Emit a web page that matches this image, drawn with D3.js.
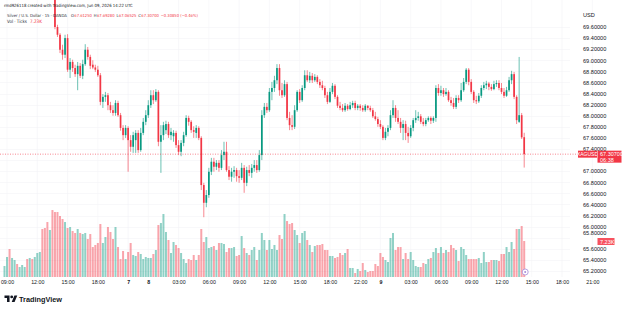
<!DOCTYPE html>
<html><head><meta charset="utf-8">
<script src="https://cdn.jsdelivr.net/npm/d3@7"></script>
<style>html,body{margin:0;padding:0;background:#fff;overflow:hidden}svg{display:block;font-family:"Liberation Sans",Arial,sans-serif}.hdr{font-family:"Liberation Sans Narrow","DejaVu Sans Condensed","Liberation Sans",sans-serif}</style>
</head><body><div id="chart"></div>
<script>
// ---- data (15-minute bars, XAGUSD, OANDA) ----
const openP = [
70.48,70.52,70.58,70.45,70.50,70.55,70.50,70.53,70.56,70.58,
70.52,70.56,70.52,70.57,70.62,70.66,70.50,70.38,70.24,70.32,
70.18,69.60,69.46,69.19,69.10,69.40,68.83,68.97,68.86,68.75,
68.90,68.72,68.93,69.19,69.06,68.92,68.87,68.83,68.73,68.25,
68.34,68.37,68.19,68.10,68.05,68.23,68.01,67.78,67.65,67.78,
67.56,67.44,67.56,67.69,67.38,67.69,67.89,68.01,68.19,68.37,
68.28,68.43,67.53,67.65,67.74,67.85,67.65,67.63,67.69,67.47,
67.35,67.51,67.65,67.96,67.89,67.74,67.69,67.78,67.60,66.75,
66.43,66.57,66.99,67.17,67.08,67.15,67.06,67.29,67.35,67.02,
66.90,66.99,67.02,66.91,66.88,67.06,66.79,67.02,66.97,67.06,
67.11,67.02,67.29,68.01,68.16,68.10,68.43,68.50,68.64,68.86,
68.46,68.37,68.57,67.96,67.83,67.80,68.10,68.43,68.28,68.50,
68.73,68.64,68.72,68.64,68.70,68.61,68.55,68.50,68.37,68.25,
68.43,68.54,68.34,68.18,68.14,68.10,68.18,68.12,68.19,68.23,
68.14,68.18,68.14,68.10,68.18,68.14,68.10,67.99,67.94,67.85,
67.80,67.60,67.71,67.78,68.01,68.14,67.96,67.89,67.78,67.85,
67.69,67.63,67.78,67.92,67.96,67.99,67.89,67.85,67.92,67.96,
67.91,67.96,68.50,68.41,68.46,68.39,68.43,68.28,68.23,68.16,
68.32,68.28,68.46,68.61,68.83,68.61,68.43,68.28,68.26,68.36,
68.50,68.55,68.58,68.52,68.48,68.57,68.59,68.50,68.43,68.36,
68.46,68.64,68.75,68.34,67.89,68.01,67.6125];
const highP = [
70.54,70.60,70.60,70.52,70.57,70.57,70.55,70.58,70.60,70.60,
70.58,70.58,70.59,70.64,70.70,70.70,70.54,70.42,70.35,70.35,
70.22,69.64,69.49,69.28,69.46,69.47,69.04,69.01,68.92,68.97,
68.95,69.01,69.29,69.24,69.10,69.00,68.92,68.90,68.77,68.39,
68.43,68.41,68.25,68.19,68.28,68.27,68.05,67.83,67.83,67.81,
67.65,67.71,67.74,67.74,67.78,67.96,68.10,68.28,68.46,68.46,
68.48,68.46,67.83,67.89,67.91,67.89,67.78,67.74,67.73,67.56,
67.56,67.71,68.01,68.00,67.92,67.81,67.83,67.81,67.63,66.79,
66.66,67.06,67.24,67.24,67.20,67.20,67.38,67.53,67.53,67.09,
67.06,67.09,67.06,67.02,67.15,67.11,67.08,67.11,67.13,67.20,
67.20,67.38,68.10,68.23,68.23,68.50,68.61,68.72,68.93,68.93,
68.59,68.64,68.61,68.07,68.01,68.19,68.46,68.48,68.55,68.82,
68.82,68.79,68.77,68.75,68.73,68.66,68.63,68.54,68.43,68.50,
68.59,68.57,68.37,68.25,68.21,68.23,68.21,68.25,68.27,68.27,
68.21,68.21,68.19,68.21,68.19,68.18,68.14,68.07,67.98,67.92,
67.83,67.78,67.83,68.10,68.28,68.19,68.10,67.96,67.92,67.91,
67.80,67.83,67.96,68.10,68.07,68.03,67.96,67.96,67.99,67.99,
67.99,68.55,68.57,68.54,68.50,68.50,68.46,68.34,68.32,68.37,
68.37,68.59,68.68,68.86,68.86,68.66,68.46,68.36,68.41,68.55,
68.61,68.63,68.61,68.57,68.63,68.64,68.64,68.59,68.50,68.52,
68.70,68.81,68.79,68.37,69.06,68.05,67.6928];
const lowP = [
70.45,70.50,70.43,70.43,70.48,70.48,70.48,70.51,70.54,70.50,
70.50,70.50,70.50,70.55,70.60,70.48,70.36,70.22,70.20,70.16,
69.56,69.42,69.13,69.01,69.04,68.79,68.68,68.79,68.70,68.46,
68.68,68.66,68.90,69.01,68.84,68.84,68.79,68.70,68.19,68.14,
68.25,68.10,68.05,68.00,68.00,67.98,67.73,67.56,67.60,66.99,
67.35,67.33,67.33,67.33,67.35,67.65,67.83,67.96,68.14,68.21,
68.25,67.45,66.97,67.56,67.67,67.60,67.56,67.53,67.42,67.29,
67.27,67.45,67.62,67.82,67.69,67.60,67.60,67.56,66.66,66.17,
66.35,66.52,66.93,66.99,67.02,66.99,67.02,67.20,66.99,66.84,
66.81,66.88,66.81,66.79,66.84,66.61,66.73,66.91,66.88,66.99,
66.97,66.99,67.20,67.96,68.05,68.07,68.28,68.43,68.57,68.36,
68.32,68.34,67.92,67.74,67.74,67.76,68.07,68.23,68.25,68.46,
68.61,68.59,68.59,68.61,68.57,68.50,68.46,68.32,68.21,68.23,
68.39,68.30,68.14,68.10,68.07,68.07,68.09,68.10,68.14,68.10,
68.10,68.09,68.07,68.07,68.10,68.07,67.96,67.91,67.80,67.76,
67.56,67.56,67.63,67.74,67.96,67.89,67.85,67.69,67.56,67.56,
67.51,67.60,67.72,67.87,67.91,67.85,67.81,67.81,67.89,67.85,
67.87,67.89,68.36,68.36,68.34,68.36,68.25,68.18,68.12,68.12,
68.23,68.25,68.43,68.57,68.55,68.39,68.23,68.21,68.23,68.32,
68.46,68.48,68.46,68.45,68.46,68.52,68.46,68.39,68.32,68.34,
68.43,68.57,68.30,67.85,67.87,67.58,67.06525];
const closeP = [
70.52,70.58,70.45,70.50,70.55,70.50,70.53,70.56,70.58,70.52,
70.56,70.52,70.57,70.62,70.66,70.50,70.38,70.24,70.32,70.18,
69.60,69.46,69.19,69.10,69.40,68.83,68.97,68.86,68.75,68.90,
68.72,68.93,69.19,69.06,68.90,68.87,68.83,68.73,68.25,68.34,
68.37,68.19,68.10,68.05,68.23,68.01,67.78,67.65,67.78,67.56,
67.44,67.65,67.69,67.38,67.69,67.89,68.01,68.19,68.37,68.28,
68.43,67.53,67.65,67.83,67.85,67.65,67.71,67.69,67.47,67.35,
67.51,67.65,67.96,67.89,67.74,67.71,67.78,67.60,66.75,66.43,
66.57,66.99,67.17,67.08,67.15,67.06,67.29,67.35,67.02,66.90,
66.99,67.02,66.91,66.88,67.06,66.79,67.02,66.97,67.06,67.11,
67.02,67.29,68.01,68.16,68.10,68.43,68.50,68.64,68.86,68.46,
68.37,68.57,67.96,67.83,67.80,68.10,68.43,68.28,68.50,68.73,
68.64,68.72,68.64,68.70,68.61,68.55,68.50,68.37,68.25,68.43,
68.54,68.34,68.18,68.14,68.10,68.18,68.12,68.19,68.23,68.14,
68.18,68.14,68.10,68.18,68.14,68.10,67.99,67.94,67.85,67.80,
67.60,67.71,67.78,68.01,68.14,67.96,67.89,67.78,67.85,67.69,
67.63,67.78,67.92,67.96,67.99,67.89,67.85,67.92,67.96,67.91,
67.96,68.50,68.41,68.46,68.39,68.43,68.28,68.23,68.16,68.32,
68.28,68.46,68.61,68.83,68.61,68.43,68.28,68.26,68.36,68.50,
68.55,68.58,68.52,68.48,68.57,68.59,68.50,68.43,68.36,68.46,
68.64,68.75,68.34,67.92,68.01,67.61,67.307];
const volumeTicks = [
2210,4020,5620,3820,3410,2610,2010,2410,2010,3610,
3820,3610,4020,4820,5020,9640,9840,11040,9440,13450,
13050,13050,12250,11650,11040,9840,10040,9240,8840,9640,
8840,8630,8840,7630,8630,6020,6430,6830,10640,6830,
8030,10040,9040,7630,10040,6020,3610,5220,3610,5020,
6830,4420,4220,5020,4620,3610,4020,3820,3820,4620,
5420,10440,10840,12650,9040,7430,4820,7030,6430,5820,
4820,3610,2810,3610,3410,4420,3410,4420,9640,7030,
8030,5820,6020,6220,5420,6830,6830,6630,5020,5820,
5820,6020,4220,4420,8230,5820,4820,4420,5420,6020,
3410,5420,8840,7430,5420,7430,5620,6430,5420,8430,
7630,12650,11240,10640,10840,9440,8430,6830,8840,9240,
7430,6430,5020,6220,6430,6430,6630,5420,5420,4220,
4220,3820,4020,4820,4420,4820,5620,1810,1810,800,
1610,1200,2810,1410,1000,1200,1200,2610,2210,4820,
4020,3410,3010,7830,8840,5420,6020,6020,3610,4820,
3610,5020,3410,2210,2010,2010,2810,2610,3610,3820,
5020,5820,4820,6020,4820,5420,5020,6430,5820,5420,
3210,6020,5620,4420,3610,3610,3610,3610,3820,2810,
5020,3010,3010,3410,3410,3410,3210,4620,4620,6020,
5020,7030,5620,9640,9640,10240,7230];
// trading sessions: [start (UTC), number of 15-min slots]
const sessions = [["2026-06-05T08:45:00Z",49],["2026-06-07T22:00:00Z",92],["2026-06-08T22:00:00Z",93]];
const tickTimes = ["06-05 09:00","06-05 12:00","06-05 15:00","06-05 18:00","06-07 22:00","06-08 00:00","06-08 03:00","06-08 06:00","06-08 09:00","06-08 12:00","06-08 15:00","06-08 18:00","06-08 22:00","06-09 00:00","06-09 03:00","06-09 06:00","06-09 09:00","06-09 12:00","06-09 15:00","06-09 18:00","06-09 21:00"];
const tickLabels = ["09:00","12:00","15:00","18:00","7","8","03:00","06:00","09:00","12:00","15:00","18:00","22:00","9","03:00","06:00","09:00","12:00","15:00","18:00","21:00"];
const dayLabels = ["7","8","9"];
const priceTicks = [69.6,69.4,69.2,69.0,68.8,68.6,68.4,68.2,68.0,67.8,67.6,67.4,67.2,67.0,66.8,66.6,66.4,66.2,66.0,65.8,65.6,65.4,65.2];
const lastPrice = 67.307, lastVolumeLabel = "7.23K", countdown = "06:38", symbolLabel = "XAGUSD";
const headerLine1 = "rmd926118 created with TradingView.com, Jun 09, 2026 14:22 UTC";
const titleText = "Silver / U.S. Dollar · 15 · OANDA";
const ohlcParts = [["O","67.61250"],["H","67.69280"],["L","67.06525"],["C","67.30700"],["","−0.30850 (−0.46%)"]];

// ---- drawing ----
const W=625,H=309, paneRight=570, up="#089981", down="#f23645";
const svg=d3.select("#chart").append("svg").attr("width",W).attr("height",H);
const fmtKey=d3.utcFormat("%m-%d %H:%M");
const times=[];
sessions.forEach(([s,n])=>{const t0=+new Date(s);for(let k=0;k<n;k++)times.push(fmtKey(new Date(t0+k*9e5)));});
const idx=new Map(times.map((t,i)=>[t,i]));
const N=closeP.length;
const bars=d3.range(N).map(i=>({i,o:openP[i],h:highP[i],l:lowP[i],c:closeP[i],v:volumeTicks[i]}));

const x=d3.scaleLinear().domain([0,206]).range([4.5,524.2]);
const y=d3.scaleLinear().domain([65.2,69.6]).range([271,27]);
const yv=d3.scaleLinear().domain([0,7230]).range([277,241]);

// helper: text sized so its natural width equals the target width
function fitText(xp,yp,str,target,color,weight,cls){
  const t=svg.append("text").attr("class",cls||null).attr("x",xp).attr("y",yp).attr("font-size",10).attr("fill",color)
    .attr("font-weight",weight||"normal").text(str);
  const w=t.node().getComputedTextLength();
  t.attr("font-size",Math.min(5.6,10*target/w));
  return t;
}

// grid
const grid=svg.append("g").attr("stroke","#f3f4f7").attr("stroke-width",0.6);
grid.selectAll("line.h").data(priceTicks).join("line").attr("x1",0).attr("x2",paneRight).attr("y1",d=>Math.round(y(d))+0.5).attr("y2",d=>Math.round(y(d))+0.5);
grid.selectAll("line.v").data(tickTimes).join("line").attr("y1",0).attr("y2",277).attr("x1",d=>x(idx.get(d))).attr("x2",d=>x(idx.get(d)));

svg.append("clipPath").attr("id","pane").append("rect").attr("x",0).attr("y",0).attr("width",paneRight).attr("height",278);
const pane=svg.append("g").attr("clip-path","url(#pane)");

// volume
pane.append("g").selectAll("rect").data(bars).join("rect")
  .attr("x",d=>x(d.i)-1.0).attr("width",2.0)
  .attr("y",d=>yv(d.v)).attr("height",d=>yv(0)-yv(d.v))
  .attr("fill",d=>d.c>=d.o?up:down).attr("fill-opacity",0.45);

// candles
const cg=pane.append("g");
cg.selectAll("line").data(bars).join("line")
  .attr("x1",d=>x(d.i)).attr("x2",d=>x(d.i)).attr("y1",d=>y(d.h)).attr("y2",d=>y(d.l))
  .attr("stroke",d=>d.c>=d.o?up:down).attr("stroke-width",0.6);
cg.selectAll("rect").data(bars).join("rect")
  .attr("x",d=>x(d.i)-0.85).attr("width",1.7)
  .attr("y",d=>y(Math.max(d.o,d.c))).attr("height",d=>Math.max(0.6,Math.abs(y(d.o)-y(d.c))))
  .attr("fill",d=>d.c>=d.o?up:down);

// last price dotted line
svg.append("line").attr("x1",0).attr("x2",578).attr("y1",y(lastPrice)).attr("y2",y(lastPrice))
  .attr("stroke",down).attr("stroke-width",0.6).attr("stroke-dasharray","1,1.5");

// right price axis
const yLab=y(lastPrice), vy=yv(volumeTicks[N-1]);
const ay=svg.append("g").attr("transform","translate(580,0)")
  .call(d3.axisRight(y).tickValues(priceTicks.filter(p=>Math.abs(y(p)-yLab-2)>7)).tickFormat(d3.format(".5f")).tickSize(0).tickPadding(3));
ay.select(".domain").remove();
ay.selectAll("text").attr("font-size",5.6).attr("fill","#131722").attr("font-family","Liberation Sans, Arial, sans-serif")
  .attr("dy",d=>Math.abs(y(d)-vy)<6?"-0.55em":"0.32em");
svg.append("text").attr("x",583).attr("y",17).attr("font-size",5.6).attr("fill","#131722").text("USD");

// bottom time axis
const ax=svg.append("g").attr("transform","translate(0,278)")
  .call(d3.axisBottom(x).tickValues(tickTimes.map(t=>idx.get(t))).tickFormat((d,i)=>tickLabels[i]).tickSize(0).tickPadding(2.5));
ax.select(".domain").remove();
ax.selectAll("text").attr("font-size",5.3).attr("fill","#131722").attr("font-family","Liberation Sans, Arial, sans-serif")
  .attr("font-weight",(d,i)=>dayLabels.includes(tickLabels[i])?"bold":"normal");

// last price labels
svg.append("rect").attr("x",578).attr("y",yLab-3.5).attr("width",19).attr("height",7).attr("fill",down);
svg.append("text").attr("x",587.5).attr("y",yLab+1.9).attr("text-anchor","middle").attr("font-size",5).attr("fill","#fff").text(symbolLabel);
svg.append("rect").attr("x",597.5).attr("y",yLab-3.5).attr("width",24).attr("height",12).attr("fill",down);
svg.append("text").attr("x",600).attr("y",yLab+1.9).attr("font-size",5.5).attr("fill","#fff").text(d3.format(".5f")(lastPrice));
svg.append("text").attr("x",600).attr("y",yLab+7.4).attr("font-size",5.5).attr("fill","#fff").text(countdown);

// volume label
svg.append("rect").attr("x",597.5).attr("y",vy-3).attr("width",17).attr("height",7).attr("fill","#f7525f");
svg.append("text").attr("x",600).attr("y",vy+2.5).attr("font-size",5.5).attr("fill","#fff").text(lastVolumeLabel);

// current-bar marker
const mx=x(N-1)+1;
svg.append("circle").attr("cx",mx).attr("cy",272).attr("r",3).attr("fill","#fff").attr("stroke","#a78bda").attr("stroke-width",0.8);
svg.append("circle").attr("cx",mx).attr("cy",272).attr("r",1).attr("fill","#a78bda");

// header
fitText(4,7,headerLine1,129,"#131722",null,"hdr");
fitText(7,17,titleText,60,"#2a2e39",null,"hdr");
// OHLC legend pieces
const pieces=[];
ohlcParts.forEach(([k,v],i)=>{
  if(k) pieces.push({t:k,c:"#2a2e39",gap:i?2.2:0});
  pieces.push({t:v,c:down,gap:k?0.5:2.2});
});
const tmp=svg.append("g").attr("class","hdr").attr("font-size",5);
pieces.forEach(p=>{const t=tmp.append("text").text(p.t);p.w=t.node().getComputedTextLength();});
tmp.remove();
const natural=d3.sum(pieces,p=>p.w+p.gap), sc=127/natural;
let cx=71;
pieces.forEach(p=>{
  cx+=p.gap*sc;
  svg.append("text").attr("class","hdr").attr("x",cx).attr("y",17).attr("font-size",5*sc).attr("fill",p.c).text(p.t);
  cx+=p.w*sc;
});
fitText(7,23,"Vol · Ticks",20,"#2a2e39",null,"hdr");
fitText(30,23,lastVolumeLabel,12,down,null,"hdr");

// TradingView logo
const logo=svg.append("g").attr("transform","translate(4.5,294) scale(0.36)").attr("fill","#131722");
logo.append("path").attr("d","M14 22H7V11H0V4h14v18z M28 22h-8l7.5-18h8L28 22z");
logo.append("circle").attr("cx",20).attr("cy",8).attr("r",4);
const tv=svg.append("text").attr("x",19).attr("y",301.5).attr("font-size",10).attr("font-weight","bold").attr("fill","#131722").text("TradingView");
tv.attr("font-size",10*43/tv.node().getComputedTextLength());
</script></body></html>
